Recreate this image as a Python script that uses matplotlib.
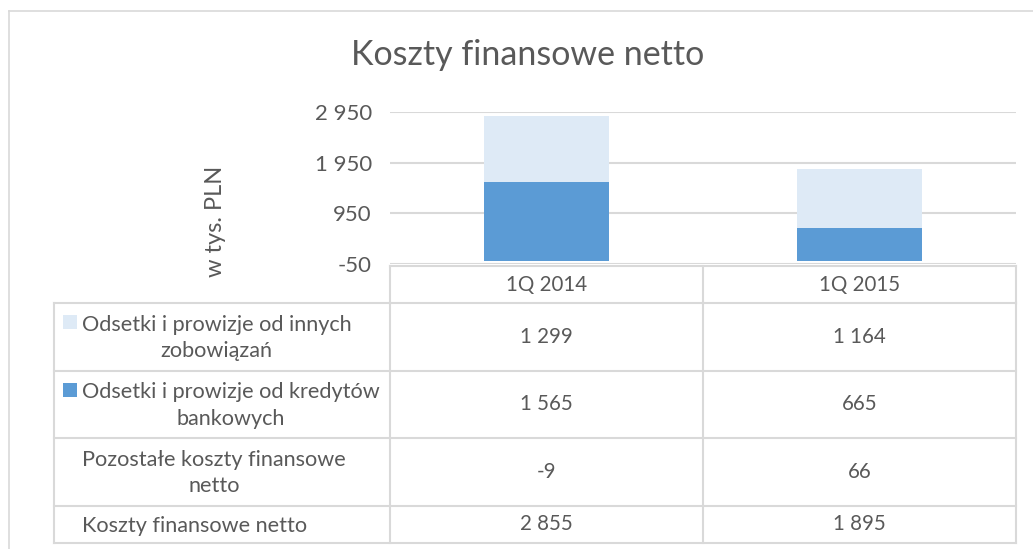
import matplotlib
matplotlib.use('Agg')
import matplotlib.pyplot as plt
from matplotlib.patches import Rectangle
from matplotlib.ticker import FixedLocator, FuncFormatter

# ---- data ----
categories = ['1Q 2014', '1Q 2015']
odsetki_inne = [1299, 1164]
odsetki_kredyty = [1565, 665]
pozostale = [-9, 66]
koszty_netto = [2855, 1895]
row_labels = ['Odsetki i prowizje od innych\nzobowiązań',
              'Odsetki i prowizje od kredytów\nbankowych',
              'Pozostałe koszty finansowe\nnetto',
              'Koszty finansowe netto']
yticks = [-50, 950, 1950, 2950]

# ---- style ----
W, H = 1033, 549
C_DARK = '#5B9BD5'
C_LIGHT = '#DEEAF6'
C_TEXT = '#595959'
C_GRID = '#D9D9D9'
FS = 14.8
plt.rcParams['font.family'] = ['Lato', 'DejaVu Sans']

fig = plt.figure(figsize=(W / 100, H / 100), dpi=100)
fig.patch.set_facecolor('white')

# overlay in pixel coordinates for frame + data table
bg = fig.add_axes([0, 0, 1, 1])
bg.set_xlim(0, W)
bg.set_ylim(H, 0)
bg.axis('off')

# chart frame (only top and left edges visible)
bg.plot([9, W], [11, 11], color=C_GRID, lw=1.2)
bg.plot([9, 9], [11, H], color=C_GRID, lw=1.2)

bg.text(528, 55, 'Koszty finansowe netto', ha='center', va='center',
        fontsize=24.5, color=C_TEXT)
bg.text(215, 221, 'w tys. PLN', ha='center', va='center', rotation=90,
        fontsize=17, color=C_TEXT)

# ---- bar chart ----
x0, x1, ytop, ybot = 390, 1016, 112, 264
ax = fig.add_axes([x0 / W, 1 - ybot / H, (x1 - x0) / W, (ybot - ytop) / H])
ax.set_xlim(-0.5, 1.5)
ax.set_ylim(-50, 2950)
xs = range(len(categories))
ax.bar(xs, odsetki_kredyty, width=0.4, color=C_DARK, zorder=3)
ax.bar(xs, odsetki_inne, width=0.4, bottom=odsetki_kredyty, color=C_LIGHT, zorder=3)
ax.yaxis.set_major_locator(FixedLocator(yticks))
ax.yaxis.set_major_formatter(FuncFormatter(lambda v, p: f'{int(v):,}'.replace(',', ' ')))
ax.tick_params(axis='y', length=0, pad=13, labelsize=16, labelcolor=C_TEXT)
ax.set_xticks([])
ax.grid(axis='y', color=C_GRID, lw=1.5, zorder=0)
for s in ax.spines.values():
    s.set_visible(False)
ax.patch.set_alpha(0)

# ---- data table ----
lx0 = 54
cols = [390, 703, 1016]
rows = [303, 371, 438, 506, 543]
head_top = 266
lc = dict(color=C_GRID, lw=1.5)

# header row
bg.plot([cols[0], cols[-1]], [head_top, head_top], **lc)
for cx in cols:
    bg.plot([cx, cx], [head_top, rows[0]], **lc)
for i, cat in enumerate(categories):
    bg.text((cols[i] + cols[i + 1]) / 2, (head_top + rows[0]) / 2, cat,
            ha='center', va='center', fontsize=FS, color=C_TEXT)

# body grid
for ry in rows:
    bg.plot([lx0, cols[-1]], [ry, ry], **lc)
for cx in [lx0] + cols:
    bg.plot([cx, cx], [rows[0], rows[-1]], **lc)

table_values = [odsetki_inne, odsetki_kredyty, pozostale, koszty_netto]
keys = [C_LIGHT, C_DARK, None, None]
for r, (label, vals, key) in enumerate(zip(row_labels, table_values, keys)):
    cy = (rows[r] + rows[r + 1]) / 2
    bg.text(82, cy + 1, label, ha='left', va='center', multialignment='center',
            fontsize=15.6, color=C_TEXT, linespacing=1.4)
    if key:
        first_line = cy - 15 if '\n' in label else cy
        bg.add_patch(Rectangle((63, first_line - 7), 14, 14, facecolor=key,
                               edgecolor='none'))
    for i, v in enumerate(vals):
        bg.text((cols[i] + cols[i + 1]) / 2, cy, f'{v:,}'.replace(',', ' '),
                ha='center', va='center', fontsize=FS, color=C_TEXT)

fig.savefig('out.png', dpi=100, facecolor='white')
